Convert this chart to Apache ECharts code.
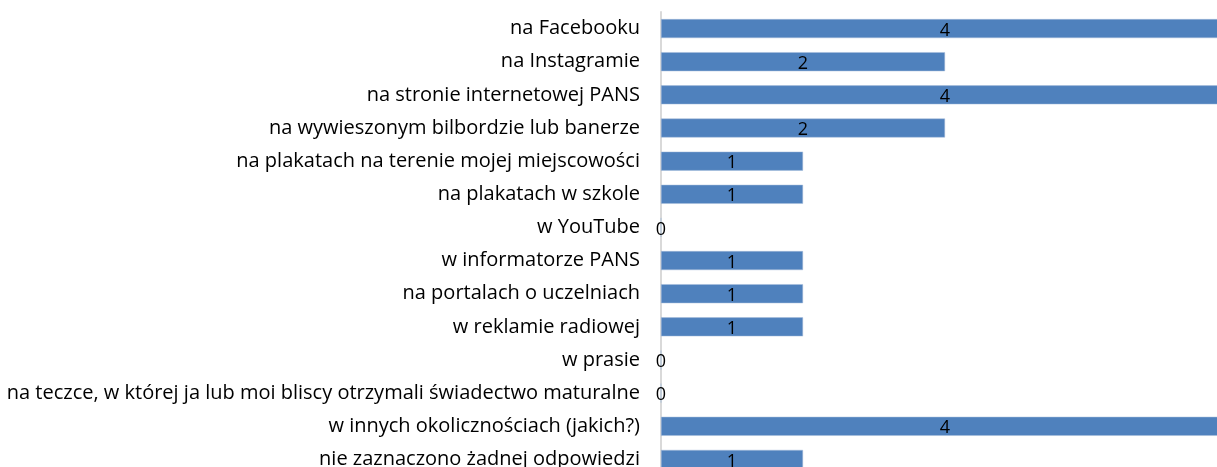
<!DOCTYPE html>
<html><head><meta charset="utf-8">
<script src="https://cdn.jsdelivr.net/npm/echarts@6/dist/echarts.min.js"></script>
<style>html,body{margin:0;padding:0;background:#fff;overflow:hidden}#c{width:1229px;height:476px}</style>
</head><body><div id="c"></div>
<script>
const categories = [
  "na Facebooku",
  "na Instagramie",
  "na stronie internetowej PANS",
  "na wywieszonym bilbordzie lub banerze",
  "na plakatach na terenie mojej miejscowości",
  "na plakatach w szkole",
  "w YouTube",
  "w informatorze PANS",
  "na portalach o uczelniach",
  "w reklamie radiowej",
  "w prasie",
  "na teczce, w której ja lub moi bliscy otrzymali świadectwo maturalne",
  "w innych okolicznościach (jakich?)",
  "nie zaznaczono żadnej odpowiedzi"
];
const values = [4, 2, 4, 2, 1, 1, 0, 1, 1, 1, 0, 0, 4, 1];

const chart = echarts.init(document.getElementById('c'));
chart.setOption({
  animation: false,
  grid: { left: 661, right: 0, top: 12, bottom: 0, containLabel: false },
  xAxis: {
    type: 'value', min: 0, max: 4,
    show: false
  },
  yAxis: {
    type: 'category', data: categories, inverse: true,
    axisLine: { show: true, lineStyle: { color: '#d9d9d9', width: 2 } },
    axisTick: { show: false },
    axisLabel: { color: '#000', fontFamily: 'Open Sans', fontSize: 20, margin: 21 }
  },
  series: [{
    type: 'bar', data: values, barWidth: 19,
    itemStyle: { color: '#4f81bd', borderColor: '#a6bddb', borderWidth: 0.5 },
    label: { show: true, position: 'inside', color: '#000', fontFamily: 'Open Sans', fontSize: 18, offset: [0, 2] }
  }]
});
</script></body></html>
